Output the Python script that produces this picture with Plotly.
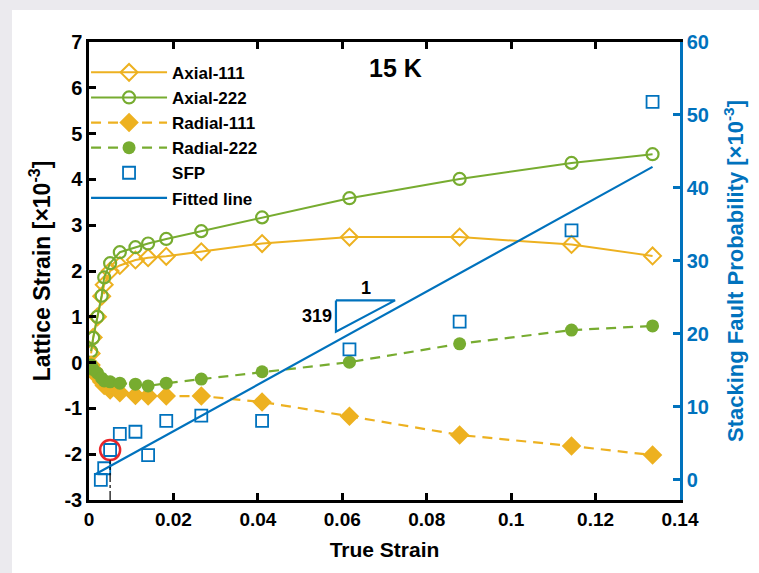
import plotly.graph_objects as go

# ---------------- data ----------------
strain = [0.0005, 0.001, 0.002, 0.003, 0.0036, 0.005, 0.0073, 0.011, 0.014,
          0.0183, 0.0266, 0.041, 0.0617, 0.0878, 0.1143, 0.1335]
axial_111 = [0.2, 0.55, 1.0, 1.45, 1.7, 2.0, 2.12, 2.24, 2.29, 2.32, 2.42,
             2.6, 2.74, 2.74, 2.58, 2.33]
axial_222 = [0.25, 0.54, 1.0, 1.46, 1.86, 2.17, 2.41, 2.52, 2.6, 2.7, 2.87,
             3.17, 3.59, 4.01, 4.36, 4.55]
radial_111 = [-0.05, -0.15, -0.3, -0.42, -0.5, -0.6, -0.66, -0.72, -0.73,
              -0.73, -0.73, -0.86, -1.17, -1.58, -1.82, -2.02]
radial_222 = [-0.05, -0.15, -0.23, -0.34, -0.4, -0.42, -0.45, -0.47, -0.51,
              -0.45, -0.36, -0.2, 0.01, 0.41, 0.71, 0.8]

sfp_strain = [0.0028, 0.0036, 0.005, 0.0073, 0.011, 0.014, 0.0183, 0.0266,
              0.041, 0.0617, 0.0878, 0.1143, 0.1335]
sfp = [0.0, 1.6, 4.1, 6.3, 6.6, 3.4, 8.1, 8.8, 8.1, 17.9, 21.7, 34.2, 51.8]

fit_slope = 319.0       # x10^-3 per unit strain
fit_intercept = 0.3
fit_range = [0.0014, 0.1335]
highlight_idx = 2

x_ticks = [0, 0.02, 0.04, 0.06, 0.08, 0.1, 0.12, 0.14]
x_tick_text = ["0", "0.02", "0.04", "0.06", "0.08", "0.1", "0.12", "0.14"]
y_ticks = list(range(-3, 8))
y_tick_text = [str(v) for v in y_ticks]
y2_ticks = [0, 10, 20, 30, 40, 50, 60]

# ---------------- styles ----------------
ORANGE = "#EDB120"
GREEN = "#77AC30"
BLUE = "#0072BD"
FONT = "Liberation Sans"

fig = go.Figure()

fig.add_trace(go.Scatter(
    x=strain, y=axial_111, name="Axial-111", mode="lines+markers",
    line=dict(color=ORANGE, width=2),
    marker=dict(symbol="diamond-open", size=13, color=ORANGE, line=dict(width=2, color=ORANGE))))
fig.add_trace(go.Scatter(
    x=strain, y=axial_222, name="Axial-222", mode="lines+markers",
    line=dict(color=GREEN, width=2),
    marker=dict(symbol="circle-open", size=12, color=GREEN, line=dict(width=2.2, color=GREEN))))
fig.add_trace(go.Scatter(
    x=strain, y=radial_111, name="Radial-111", mode="lines+markers",
    line=dict(color=ORANGE, width=2.2, dash="10px,7px"),
    marker=dict(symbol="diamond", size=15, color=ORANGE)))
fig.add_trace(go.Scatter(
    x=strain, y=radial_222, name="Radial-222", mode="lines+markers",
    line=dict(color=GREEN, width=2.2, dash="10px,7px"),
    marker=dict(symbol="circle", size=13, color=GREEN)))
fig.add_trace(go.Scatter(
    x=sfp_strain, y=sfp, name="SFP", mode="markers", yaxis="y2",
    marker=dict(symbol="square-open", size=12, color=BLUE, line=dict(width=1.8, color=BLUE))))
fit_y = [fit_slope * v + fit_intercept for v in fit_range]
fig.add_trace(go.Scatter(
    x=fit_range, y=fit_y, name="Fitted line", mode="lines", yaxis="y2",
    line=dict(color=BLUE, width=2.2)))

# highlighted point (red circle)
fig.add_trace(go.Scatter(
    x=[sfp_strain[highlight_idx]], y=[sfp[highlight_idx]], yaxis="y2", mode="markers",
    showlegend=False, hoverinfo="skip",
    marker=dict(symbol="circle-open", size=20, color="#E8262A", line=dict(width=2.5, color="#E8262A"))))

# slope triangle
tri_x0, tri_x1 = 0.0585, 0.0725
tri_y0, tri_y1 = 20.3, 24.6
fig.add_trace(go.Scatter(
    x=[tri_x0, tri_x1, tri_x0, tri_x0], y=[tri_y1, tri_y1, tri_y0, tri_y1], yaxis="y2",
    mode="lines", showlegend=False, hoverinfo="skip",
    line=dict(color=BLUE, width=2.2)))

bold = dict(family=FONT, weight="bold")

fig.update_layout(
    width=759, height=573,
    margin=dict(l=89, r=79, t=42, b=73),
    paper_bgcolor="#ebeaee",
    plot_bgcolor="white",
    showlegend=True,
    legend=dict(x=-0.005, y=0.972, xanchor="left", yanchor="top",
                bgcolor="rgba(0,0,0,0)", borderwidth=0,
                font=dict(size=17, color="black", **bold),
                itemwidth=76, tracegroupgap=0),
    xaxis=dict(range=[0, 0.14], tickvals=x_ticks, ticktext=x_tick_text,
               showgrid=False, zeroline=False,
               showline=True, linecolor="black", linewidth=2.5, mirror="ticks",
               ticks="inside", ticklen=7, tickwidth=2.5, tickcolor="black",
               tickfont=dict(size=19, color="black", **bold),
               title=dict(text="True Strain", standoff=14,
                          font=dict(size=21, color="black", **bold))),
    yaxis=dict(range=[-3, 7], tickvals=y_ticks, ticktext=y_tick_text,
               showgrid=False, zeroline=False,
               showline=True, linecolor="black", linewidth=2.5, mirror=False,
               ticks="inside", ticklen=7, tickwidth=2.5, tickcolor="black",
               tickfont=dict(size=20, color="black", **bold),
               title=dict(text="Lattice Strain [×10<sup>-3</sup>]", standoff=8,
                          font=dict(size=23, color="black", **bold))),
    yaxis2=dict(range=[-2.75, 60], tickvals=y2_ticks, overlaying="y", side="right",
                showgrid=False, zeroline=False,
                showline=True, linecolor=BLUE, linewidth=2.5,
                ticks="inside", ticklen=7, tickwidth=2.5, tickcolor=BLUE,
                tickfont=dict(size=20, color=BLUE, **bold),
                title=dict(text="Stacking Fault Probability [×10<sup>-3</sup>]", standoff=20,
                           font=dict(size=22, color=BLUE, **bold))),
    shapes=[
        dict(type="rect", xref="paper", yref="paper", x0=-0.1303, x1=1.14, y0=-0.17, y1=1.0699,
             fillcolor="white", line=dict(width=0), layer="below"),
        dict(type="line", xref="x", yref="y", x0=sfp_strain[highlight_idx], x1=sfp_strain[highlight_idx],
             y0=-3, y1=-2.13, line=dict(color="black", width=1.2, dash="dashdot")),
    ],
    annotations=[
        dict(text="15 K", x=0.518, y=0.978, xref="paper", yref="paper", xanchor="center",
             yanchor="top", showarrow=False, font=dict(size=25, color="black", **bold)),
        dict(text="1", x=(tri_x0 + tri_x1) / 2, y=tri_y1, xref="x", yref="y2",
             xanchor="center", yanchor="bottom", showarrow=False,
             font=dict(size=18, color="black", **bold)),
        dict(text="319", x=tri_x0, y=(tri_y0 + tri_y1) / 2, xref="x", yref="y2",
             xanchor="right", yanchor="middle", showarrow=False, xshift=-2,
             font=dict(size=18, color="black", **bold)),
    ],
)

fig.write_html("out.html")
